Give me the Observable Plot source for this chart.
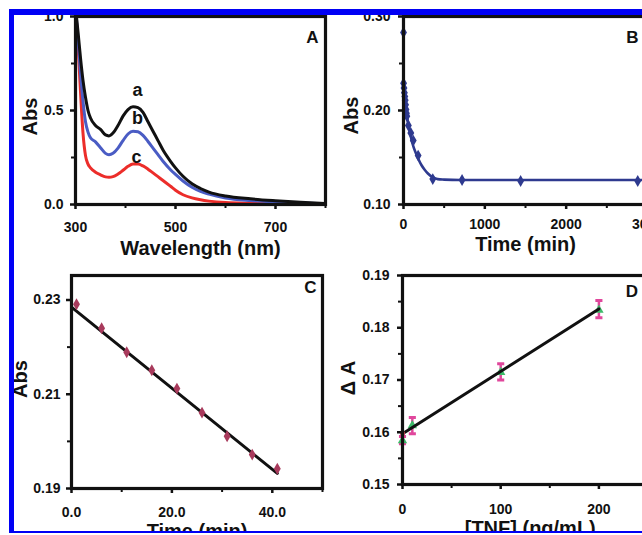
<!DOCTYPE html>
<html><head><meta charset="utf-8">
<script src="https://cdn.jsdelivr.net/npm/d3@7"></script>
<script src="https://cdn.jsdelivr.net/npm/@observablehq/plot@0.6"></script>
<style>
html,body{margin:0;padding:0;background:#fff;}
#fig{position:relative;width:642px;height:535px;overflow:hidden;background:#fff;}
.panel{position:absolute;}
.ov{position:absolute;}
</style></head><body>
<div id="fig">
  <div class="panel" id="pA" style="left:0px;top:0px;width:330px;height:265px"></div>
  <div class="panel" id="pB" style="left:330px;top:0px;width:330px;height:265px"></div>
  <div class="panel" id="pC" style="left:0px;top:260px;width:330px;height:280px"></div>
  <div class="panel" id="pD" style="left:330px;top:260px;width:330px;height:280px"></div>
  <div class="ov" style="left:0;top:0;width:642px;height:9px;background:#fff"></div>
  <div class="ov" style="left:0;top:0;width:9px;height:535px;background:#fff"></div>
  <div class="ov" style="left:9px;top:9px;width:633px;height:6px;background:#0000f5"></div>
  <div class="ov" style="left:9px;top:9px;width:5px;height:524px;background:#0000f5"></div>
  <div class="ov" style="left:9px;top:531px;width:633px;height:2px;background:#0000f5"></div>
  <div class="ov" style="left:0;top:533px;width:642px;height:2px;background:#fff"></div>
</div>
<script>
// ---------- Panel A: spectra ----------
const wavelengthA = [300,305,310,315,320,325,330,340,350,360,367,375,385,395,405,415,425,435,445,455,465,475,490,500,515,533,550,567,600,650,700,750,800];
const absA_a = [1.05,0.92,0.78,0.66,0.57,0.50,0.46,0.42,0.40,0.37,0.365,0.38,0.42,0.47,0.505,0.52,0.515,0.49,0.44,0.39,0.34,0.29,0.23,0.195,0.15,0.11,0.085,0.066,0.045,0.03,0.02,0.012,0.005];
const absA_b = [1.05,0.88,0.70,0.55,0.44,0.385,0.355,0.333,0.302,0.272,0.265,0.272,0.30,0.34,0.375,0.39,0.387,0.368,0.335,0.30,0.265,0.23,0.185,0.16,0.125,0.092,0.07,0.055,0.035,0.021,0.013,0.008,0.004];
const absA_c = [1.05,0.85,0.60,0.38,0.26,0.215,0.195,0.172,0.158,0.147,0.145,0.148,0.162,0.182,0.203,0.215,0.215,0.205,0.188,0.168,0.148,0.128,0.097,0.076,0.052,0.035,0.025,0.018,0.010,0.006,0.004,0.003,0.002];
const curveNamesA = ["a","b","c"];
const curveColorsA = ["#111111","#4a5cc4","#ec2d2a"];
const labelWlA = [424,424,422];
const labelAbsA = [0.61,0.457,0.25];
const xTicksA = [300,500,700], xMinorA = [400,600,800];
const yTicksA = [0,0.5,1.0], yMinorA = [0.25,0.75];

// ---------- Panel B: kinetics ----------
const timeB = [0,1,6,11,16,21,26,31,36,41,60,90,120,180,360,720,1440,2880];
const absB = [0.283,0.229,0.224,0.219,0.215,0.211,0.206,0.201,0.197,0.194,0.184,0.176,0.168,0.152,0.127,0.126,0.125,0.125];
const fitTimeB = [0,20,40,60,90,120,150,180,220,260,300,360,420,500,700,1000,2000,3000];
const fitAbsB = [0.232,0.211,0.196,0.185,0.172,0.162,0.155,0.149,0.142,0.137,0.133,0.129,0.127,0.1265,0.126,0.126,0.126,0.126];
const xTicksB = [0,1000,2000,3000], xMinorB = [500,1500,2500];
const yTicksB = [0.10,0.20,0.30], yMinorB = [0.15,0.25];

// ---------- Panel C: linear region ----------
const timeC = [1,6,11,16,21,26,31,36,41];
const absC = [0.2291,0.2240,0.2189,0.2151,0.2112,0.2061,0.2011,0.1972,0.1942];
const fitTimeC = [0,41];
const fitAbsC = [0.2285,0.1932];
const xTicksC = [0,20,40], xMinorC = [10,30,50];
const yTicksC = [0.19,0.21,0.23], yMinorC = [0.20,0.22];

// ---------- Panel D: calibration ----------
const tnfD = [0,10,100,200];
const dAD = [0.1584,0.1613,0.1715,0.1834];
const errLowD = [0.1578,0.1597,0.1700,0.1819];
const errHighD = [0.1592,0.1628,0.1731,0.1852];
const blankTnfD = [0], blankDAD = [0.1598];
const fitTnfD = [0,200];
const fitDAD = [0.1597,0.1836];
const xTicksD = [0,100,200], xMinorD = [50,150,250];
const yTicksD = [0.15,0.16,0.17,0.18,0.19], yMinorD = [0.155,0.165,0.175,0.185];

const FONT = '"Liberation Sans", Arial, Helvetica, sans-serif';
const style = {fontFamily: FONT, fontWeight: "bold", background: "transparent", color: "#111", overflow: "visible"};

function axes(o) {
  return [
    Plot.axisX({ticks: o.xMajor, tickFormat: o.xFmt, tickSize: 5, tickPadding: o.xPad, fontSize: 14, fontWeight: "bold", strokeWidth: 2.5, label: null}),
    Plot.axisX({ticks: o.xMinor, tickFormat: () => "", tickSize: 4, strokeWidth: 2, label: null}),
    Plot.axisY({ticks: o.yMajor, tickFormat: o.yFmt, tickSize: 5, tickPadding: o.yPad, fontSize: 14, fontWeight: "bold", strokeWidth: 2.5, label: null}),
    Plot.axisY({ticks: o.yMinor, tickFormat: () => "", tickSize: 4, strokeWidth: 2, label: null}),
    Plot.frame({stroke: "#111", strokeWidth: 3.2})
  ];
}
function titles(o) {
  return [
    Plot.text([o.xTitle], {text: d => d, frameAnchor: "bottom", dy: o.xDy, dx: o.xDx || 0, fontSize: 20, fontWeight: "bold", lineAnchor: "middle", textAnchor: "middle", fill: "#111"}),
    Plot.text([o.yTitle], {text: d => d, frameAnchor: "left", rotate: -90, dx: o.yDx, dy: o.yDy || 0, fontSize: 20, fontWeight: "bold", lineAnchor: "middle", textAnchor: "middle", fill: "#111"}),
    Plot.text([o.letter], {text: d => d, frameAnchor: "top-right", dx: o.lDx, dy: o.lDy, fontSize: 17, fontWeight: "bold", lineAnchor: "middle", textAnchor: "middle", fill: "#111"})
  ];
}

// Panel A
const specRows = [];
[absA_a, absA_b, absA_c].forEach((arr, k) => arr.forEach((v, i) => specRows.push({wl: wavelengthA[i], abs: v, curve: curveNamesA[k]})));
const labelRowsA = curveNamesA.map((n, i) => ({n, wl: labelWlA[i], abs: labelAbsA[i]}));
document.getElementById("pA").append(Plot.plot({
  width: 330, height: 265, marginLeft: 75, marginRight: 5, marginTop: 16, marginBottom: 61,
  style,
  x: {domain: [300, 800]}, y: {domain: [0, 1]},
  marks: [
    Plot.line(specRows.filter(d => d.curve === "c"), {x: "wl", y: "abs", stroke: curveColorsA[2], strokeWidth: 3, curve: "monotone-x", clip: true}),
    Plot.line(specRows.filter(d => d.curve === "b"), {x: "wl", y: "abs", stroke: curveColorsA[1], strokeWidth: 3, curve: "monotone-x", clip: true}),
    Plot.line(specRows.filter(d => d.curve === "a"), {x: "wl", y: "abs", stroke: curveColorsA[0], strokeWidth: 3, curve: "monotone-x", clip: true}),
    Plot.text(labelRowsA, {x: "wl", y: "abs", text: "n", fontSize: 18, fontWeight: "bold", fill: "#111"}),
    ...axes({xMajor: xTicksA, xMinor: xMinorA, yMajor: yTicksA, yMinor: yMinorA, xFmt: d3.format("d"), yFmt: d3.format(".1f"), xPad: 13, yPad: 7}),
    ...titles({xTitle: "Wavelength (nm)", xDy: 44, yTitle: "Abs", yDx: -45, yDy: 6, letter: "A", lDx: -13, lDy: 21})
  ]
}));

// Panel B
const rowsB = timeB.map((t, i) => ({t, a: absB[i]}));
const fitRowsB = fitTimeB.map((t, i) => ({t, a: fitAbsB[i]}));
const navy = "#2e3a8f";
document.getElementById("pB").append(Plot.plot({
  width: 330, height: 265, marginLeft: 73, marginRight: 13, marginTop: 16, marginBottom: 61,
  style,
  x: {domain: [0, 3000]}, y: {domain: [0.10, 0.30]},
  marks: [
    Plot.line(fitRowsB, {x: "t", y: "a", stroke: navy, strokeWidth: 2.6, curve: "monotone-x"}),
    Plot.dot(rowsB, {x: "t", y: "a", symbol: "diamond", r: 3.6, fill: navy}),
    ...axes({xMajor: xTicksB, xMinor: xMinorB, yMajor: yTicksB, yMinor: yMinorB, xFmt: d3.format("d"), yFmt: d3.format(".2f"), xPad: 10, yPad: 8}),
    ...titles({xTitle: "Time (min)", xDy: 40, yTitle: "Abs", yDx: -52, yDy: 5, letter: "B", lDx: -15, lDy: 21})
  ]
}));

// Panel C
const rowsC = timeC.map((t, i) => ({t, a: absC[i]}));
const fitRowsC = fitTimeC.map((t, i) => ({t, a: fitAbsC[i]}));
document.getElementById("pC").append(Plot.plot({
  width: 330, height: 280, marginLeft: 71, marginRight: 8, marginTop: 15, marginBottom: 52,
  style,
  x: {domain: [0, 50]}, y: {domain: [0.19, 0.2352]},
  marks: [
    Plot.line(fitRowsC, {x: "t", y: "a", stroke: "#111", strokeWidth: 3}),
    Plot.dot(rowsC, {x: "t", y: "a", symbol: "diamond", r: 3.6, fill: "#a83a5c"}),
    ...axes({xMajor: xTicksC, xMinor: xMinorC, yMajor: yTicksC, yMinor: yMinorC, xFmt: d3.format(".1f"), yFmt: d3.format(".2f"), xPad: 14, yPad: 6}),
    ...titles({xTitle: "Time (min)", xDy: 43, yTitle: "Abs", yDx: -51, yDy: -3, letter: "C", lDx: -12, lDy: 12})
  ]
}));

// Panel D
const rowsD = tnfD.map((x, i) => ({x, y: dAD[i], lo: errLowD[i], hi: errHighD[i]}));
const blankRowsD = blankTnfD.map((x, i) => ({x, y: blankDAD[i]}));
const fitRowsD = fitTnfD.map((x, i) => ({x, y: fitDAD[i]}));
const pink = "#e0479c";
const capSymbol = {draw(ctx, size) { const w = Math.sqrt(size); ctx.moveTo(-w, 0); ctx.lineTo(w, 0); ctx.closePath(); }};
document.getElementById("pD").append(Plot.plot({
  width: 330, height: 280, marginLeft: 72, marginRight: 12.5, marginTop: 15, marginBottom: 56,
  style,
  x: {domain: [0, 250]}, y: {domain: [0.15, 0.19]},
  marks: [
    Plot.ruleX(rowsD, {x: "x", y1: "lo", y2: "hi", stroke: pink, strokeWidth: 2.5}),
    Plot.dot(rowsD, {x: "x", y: "lo", symbol: capSymbol, r: 2, stroke: pink, strokeWidth: 3}),
    Plot.dot(rowsD, {x: "x", y: "hi", symbol: capSymbol, r: 2, stroke: pink, strokeWidth: 3}),
    Plot.dot(rowsD, {x: "x", y: "y", symbol: "triangle", r: 3.5, fill: "#3dbb6a"}),
    Plot.line(fitRowsD, {x: "x", y: "y", stroke: "#111", strokeWidth: 3}),
    Plot.dot(blankRowsD, {x: "x", y: "y", r: 2.5, fill: "#c8414e"}),
    ...axes({xMajor: xTicksD, xMinor: xMinorD, yMajor: yTicksD, yMinor: yMinorD, xFmt: d3.format("d"), yFmt: d3.format(".2f"), xPad: 15, yPad: 8}),
    ...titles({xTitle: "[TNF] (ng/mL)", xDy: 44, xDx: 5, yTitle: "Δ A", yDx: -54, yDy: -2, letter: "D", lDx: -16, lDy: 16})
  ]
}));
</script>
</body></html>
